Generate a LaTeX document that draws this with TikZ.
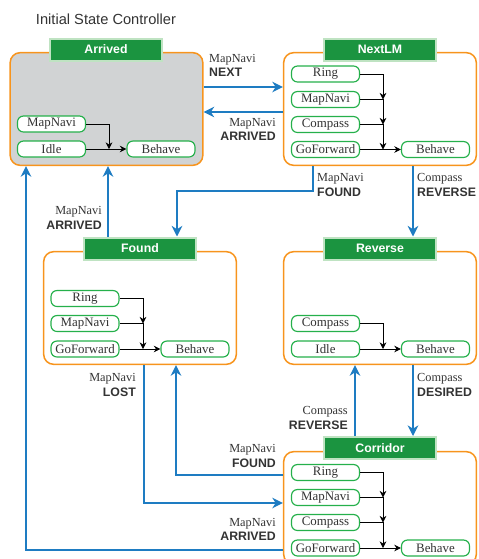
\documentclass[tikz,border=0pt]{standalone}
\usepackage{fontspec}
\setmainfont{Liberation Serif}
\setsansfont{Liberation Sans}
\usetikzlibrary{arrows.meta}
\definecolor{boxorange}{HTML}{F7941D}
\definecolor{titlegreen}{HTML}{1B9440}
\definecolor{titlerim}{HTML}{BFE3C2}
\definecolor{nodegreen}{HTML}{25B04B}
\definecolor{flowblue}{HTML}{1E7CC2}
\definecolor{panelgray}{HTML}{D1D3D4}
\definecolor{inkgray}{HTML}{333333}
\newcommand{\trans}[2]{{\rmfamily #1}\\{\sffamily\bfseries #2}}

\begin{document}
\begin{tikzpicture}[x=0.3mm, y=-0.3mm,
  statebox/.style={draw=boxorange, line width=0.45mm, rounded corners=3mm,
    minimum width=57.8mm, minimum height=33.8mm, inner sep=0},
  statetitle/.style={draw=titlerim, line width=0.6mm, fill=titlegreen, text=white,
    font=\sffamily\bfseries\fontsize{10.5}{12}\selectfont,
    minimum width=33.6mm, minimum height=6.6mm, inner sep=0},
  behavior/.style={draw=nodegreen, line width=0.35mm, fill=white, rounded corners=1.8mm,
    minimum width=20.4mm, minimum height=4.8mm, inner sep=0,
    font=\fontsize{11}{12}\selectfont, text=inkgray},
  link/.style={line width=0.25mm, -{Stealth[length=2mm,width=2mm]}},
  flow/.style={draw=flowblue, line width=0.45mm, -{Stealth[length=3.2mm,width=3.2mm]}},
  cond/.style={font=\fontsize{10.5}{12.5}\selectfont, text=inkgray, inner sep=0}]
  \clip (0,0) rectangle (478,559);

  \node[font=\sffamily\fontsize{12.5}{14}\selectfont, text=inkgray] (title) at (106,19) {Initial State Controller};

  % states
  \node[statebox, fill=panelgray] (arrived) at (106.5,109) {};
  \node[statebox] (nextlm) at (380,109) {};
  \node[statebox] (found) at (140,308) {};
  \node[statebox] (reverse) at (380,308) {};
  \node[statebox] (corridor) at (380,508) {};

  \node[statetitle] (arrivedT) at (106,49.5) {Arrived};
  \node[statetitle] (nextlmT) at (380,49.5) {NextLM};
  \node[statetitle] (foundT) at (140,248.5) {Found};
  \node[statetitle] (reverseT) at (380,248.5) {Reverse};
  \node[statetitle] (corridorT) at (380,448) {Corridor};

  % Arrived
  \node[behavior] (aMap) at (51.5,124) {MapNavi};
  \node[behavior] (aIdle) at (51.5,149) {Idle};
  \node[behavior] (aBeh) at (161,149) {Behave};
  \coordinate (aj1) at (109,0 |- aIdle.east);
  \draw[link] (aMap.east) -| (aj1);
  \draw[link] (aIdle.east) -- (aBeh.west);

  % NextLM
  \node[behavior] (nRing) at (325.5,74) {Ring};
  \node[behavior] (nMap) at (325.5,99.5) {MapNavi};
  \node[behavior] (nComp) at (325.5,124.5) {Compass};
  \node[behavior] (nGo) at (325.5,149.5) {GoForward};
  \node[behavior] (nBeh) at (435.5,149.5) {Behave};
  \coordinate (nj1) at (383,0 |- nMap.east);
  \coordinate (nj2) at (383,0 |- nComp.east);
  \coordinate (nj3) at (383,0 |- nGo.east);
  \draw[link] (nRing.east) -| (nj1);
  \draw[link] (nMap.east) -| (nj2);
  \draw[link] (nComp.east) -| (nj3);
  \draw[link] (nGo.east) -- (nBeh.west);

  % Found
  \node[behavior] (fRing) at (85,298.5) {Ring};
  \node[behavior] (fMap) at (85,323.5) {MapNavi};
  \node[behavior] (fGo) at (85,349) {GoForward};
  \node[behavior] (fBeh) at (195,349) {Behave};
  \coordinate (fj1) at (143,0 |- fMap.east);
  \coordinate (fj2) at (143,0 |- fGo.east);
  \draw[link] (fRing.east) -| (fj1);
  \draw[link] (fMap.east) -| (fj2);
  \draw[link] (fGo.east) -- (fBeh.west);

  % Reverse
  \node[behavior] (rComp) at (325.5,323.5) {Compass};
  \node[behavior] (rIdle) at (325.5,349) {Idle};
  \node[behavior] (rBeh) at (435.5,349) {Behave};
  \coordinate (rj1) at (383,0 |- rIdle.east);
  \draw[link] (rComp.east) -| (rj1);
  \draw[link] (rIdle.east) -- (rBeh.west);

  % Corridor
  \node[behavior] (cRing) at (325.5,472.5) {Ring};
  \node[behavior] (cMap) at (325.5,497.5) {MapNavi};
  \node[behavior] (cComp) at (325.5,522.5) {Compass};
  \node[behavior] (cGo) at (325.5,548) {GoForward};
  \node[behavior] (cBeh) at (435.5,548) {Behave};
  \coordinate (cj1) at (383,0 |- cMap.east);
  \coordinate (cj2) at (383,0 |- cComp.east);
  \coordinate (cj3) at (383,0 |- cGo.east);
  \draw[link] (cRing.east) -| (cj1);
  \draw[link] (cMap.east) -| (cj2);
  \draw[link] (cComp.east) -| (cj3);
  \draw[link] (cGo.east) -- (cBeh.west);

  % transitions
  \draw[flow] (arrived.east |- 0,87) -- (nextlm.west |- 0,87);
  \draw[flow] (nextlm.west |- 0,112) -- (arrived.east |- 0,112);
  \draw[flow] (313,0 |- nextlm.south) |- (177,191) -- (177,0 |- foundT.north);
  \draw[flow] (413,0 |- nextlm.south) -- (413,0 |- reverseT.north);
  \draw[flow] (108,0 |- foundT.north) -- (108,0 |- arrived.south);
  \draw[flow] (corridor.west |- 0,550) -| (26,0 |- arrived.south);
  \draw[flow] (144,0 |- found.south) |- (corridor.west |- 0,503);
  \draw[flow] (corridor.west |- 0,475) -| (176,0 |- found.south);
  \draw[flow] (355,0 |- corridorT.north) -- (355,0 |- reverse.south);
  \draw[flow] (413,0 |- reverse.south) -- (413,0 |- corridorT.north);

  \node[cond, anchor=west, align=left] (tNext) at (209,65.5) {\trans{MapNavi}{NEXT}};
  \node[cond, anchor=east, align=right] (tArr1) at (276,129.5) {\trans{MapNavi}{ARRIVED}};
  \node[cond, anchor=west, align=left] (tFound1) at (317,185) {\trans{MapNavi}{FOUND}};
  \node[cond, anchor=west, align=left] (tRev1) at (417,185) {\trans{Compass}{REVERSE}};
  \node[cond, anchor=east, align=right] (tArr2) at (102,218) {\trans{MapNavi}{ARRIVED}};
  \node[cond, anchor=east, align=right] (tLost) at (136,385) {\trans{MapNavi}{LOST}};
  \node[cond, anchor=west, align=left] (tDes) at (417,385) {\trans{Compass}{DESIRED}};
  \node[cond, anchor=east, align=right] (tRev2) at (348,418) {\trans{Compass}{REVERSE}};
  \node[cond, anchor=east, align=right] (tFound2) at (276,456) {\trans{MapNavi}{FOUND}};
  \node[cond, anchor=east, align=right] (tArr3) at (276,529.5) {\trans{MapNavi}{ARRIVED}};
\end{tikzpicture}
\end{document}
